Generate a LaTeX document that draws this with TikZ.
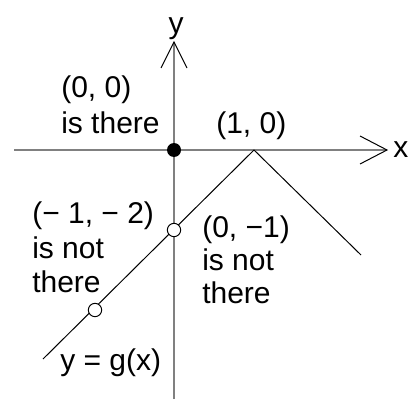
\documentclass[tikz,border=0pt]{standalone}
\usepackage{fontspec}
\setmainfont{Liberation Sans}
\begin{document}
\begin{tikzpicture}[x=0.75pt,y=-0.75pt,
  lbl/.style={font=\fontsize{22.5}{25}\selectfont, inner sep=0pt, anchor=base west},
  axis/.style={draw=black!50, line width=1.5pt},
  tip/.style={draw=black, line width=0.75pt},
  graph/.style={draw=black, line width=0.75pt},
  hole/.style={circle, draw=black, fill=white, line width=0.75pt, minimum size=10pt, inner sep=0pt},
  dot/.style={circle, fill=black, minimum size=10.5pt, inner sep=0pt}]
\useasboundingbox (0,0) rectangle (409,399);
\coordinate (O) at (174,150);
\coordinate (ytop) at (174,42);
\coordinate (ybot) at (174,399);
\coordinate (xl) at (14,150);
\coordinate (xr) at (387,150);
\coordinate (ya1) at (161,68);
\coordinate (ya2) at (187,68);
\coordinate (xa1) at (360,136);
\coordinate (xa2) at (360,164);
\draw[axis] (ybot) -- (ytop);
\draw[axis] (xl) -- (xr);
\draw[tip] (ya1) -- (ytop) -- (ya2);
\draw[tip] (xa1) -- (xr) -- (xa2);
\coordinate (P) at (254,150);
\coordinate (A) at (43,359);
\coordinate (B) at (361,255);
\draw[graph] (A) -- (P) -- (B);
\node[hole] (h1) at (174,230) {};
\node[hole] (h2) at (95,310) {};
\node[dot] (d0) at (O) {};
\node[lbl, anchor=base] (ylab) at (176,34) {y};
\node[lbl] (xlab) at (393,157) {x};
\node[lbl] (t1a) at (61,98) {(0, 0)};
\node[lbl] (t1b) at (61,133) {is there};
\node[lbl] (t2) at (216,133) {(1, 0)};
\node[lbl] (t3a) at (32,223) {(− 1, − 2)};
\node[lbl] (t3b) at (32,258) {is not};
\node[lbl] (t3c) at (32,292) {there};
\node[lbl] (t4a) at (202,237) {(0, −1)};
\node[lbl] (t4b) at (202,270) {is not};
\node[lbl] (t4c) at (202,303) {there};
\node[lbl] (t5) at (60,370) {y = g(x)};
\end{tikzpicture}
\end{document}
